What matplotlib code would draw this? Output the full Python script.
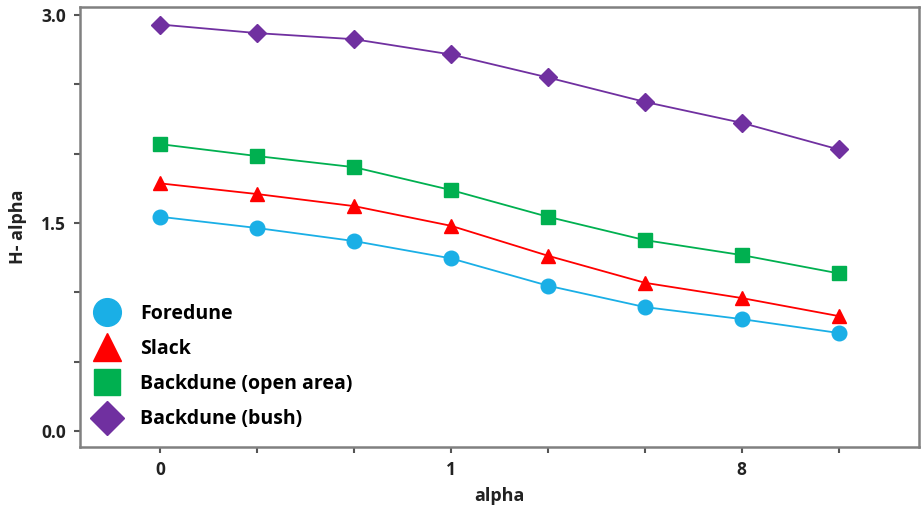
import matplotlib.pyplot as plt
from matplotlib.ticker import MultipleLocator

x = list(range(8))
xtick_pos = [0, 3, 6]
xtick_labels = ['0', '1', '8']

foredune = [1.545, 1.464, 1.370, 1.245, 1.048, 0.894, 0.807, 0.707]
slack = [1.786, 1.709, 1.622, 1.480, 1.264, 1.069, 0.959, 0.829]
backdune_open = [2.069, 1.983, 1.903, 1.738, 1.545, 1.377, 1.269, 1.137]
backdune_bush = [2.932, 2.870, 2.826, 2.716, 2.550, 2.374, 2.223, 2.031]

series = [
    ('Foredune', foredune, '#1AAFE6', 'o', 10.5),
    ('Slack', slack, '#FF0000', '^', 10.5),
    ('Backdune (open area)', backdune_open, '#00B050', 's', 10),
    ('Backdune (bush)', backdune_bush, '#7030A0', 'D', 9),
]

plt.rcParams['font.family'] = ['Open Sans', 'DejaVu Sans']

fig = plt.figure(figsize=(9.22, 5.05), dpi=100)
ax = fig.add_axes([0.0868, 0.115, 0.91, 0.871])

for name, vals, color, marker, ms in series:
    ax.plot(x, vals, color=color, marker=marker, markersize=ms,
            linewidth=1.3, label=name)

ax.set_xlim(-0.83, 7.83)
ax.set_ylim(-0.115, 3.058)

ax.set_xticks(x)
ax.set_xticklabels(['' if i not in xtick_pos else xtick_labels[xtick_pos.index(i)]
                    for i in x])
ax.yaxis.set_major_locator(MultipleLocator(0.5))
ax.set_yticklabels(['0.0' if abs(v) < 1e-9 else ('1.5' if abs(v - 1.5) < 1e-9 else
                    ('3.0' if abs(v - 3.0) < 1e-9 else ''))
                    for v in ax.get_yticks()])

for lab in ax.get_xticklabels() + ax.get_yticklabels():
    lab.set_fontweight('bold')
    lab.set_fontsize(12.5)
    lab.set_color('#222222')

ax.tick_params(axis='both', colors='#555555', length=4, width=1.5,
               labelcolor='#222222', pad=6)
for sp in ax.spines.values():
    sp.set_color('#808080')
    sp.set_linewidth(1.8)

ax.set_xlabel('alpha', fontsize=13, fontweight='bold', color='#222222', labelpad=6)
ax.set_ylabel('H- alpha', fontsize=13, fontweight='bold', color='#222222', labelpad=10)

leg = ax.legend(loc='lower left', bbox_to_anchor=(0.0, 0.0), frameon=False,
                markerscale=1.9, prop={'weight': 'bold', 'size': 14},
                labelspacing=0.78, handlelength=1.0, handletextpad=1.2)
for h in leg.get_lines():
    h.set_linestyle('none')

fig.savefig('out.png', dpi=100)
